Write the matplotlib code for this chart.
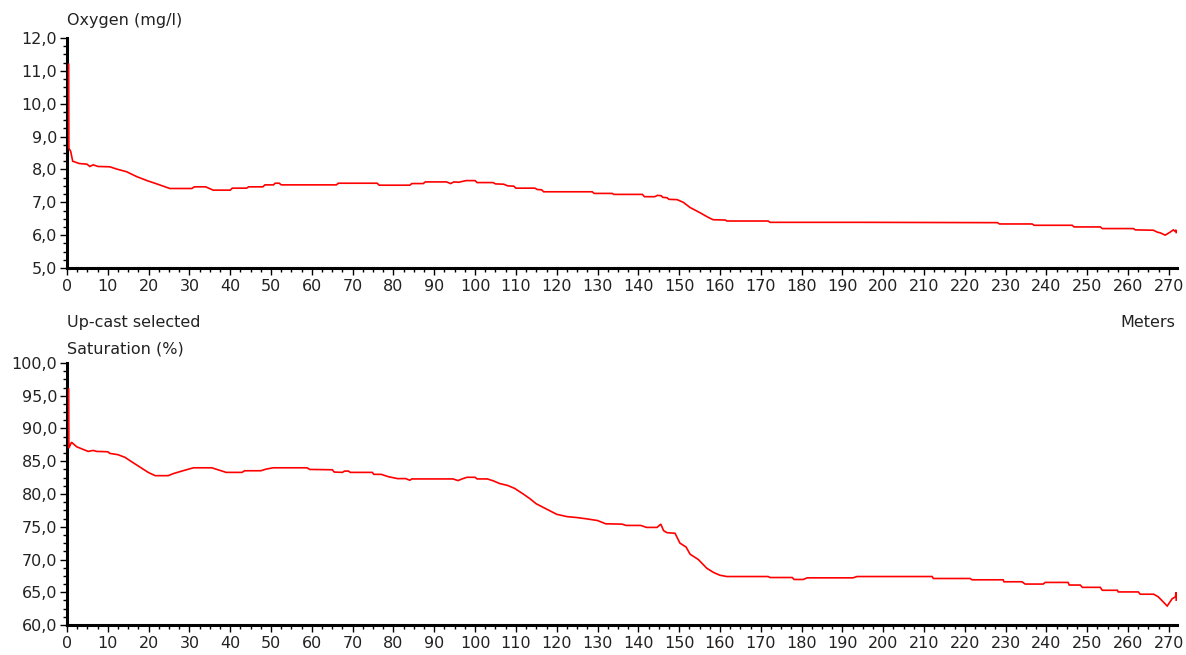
import matplotlib
matplotlib.use("Agg")
import matplotlib.pyplot as plt
from matplotlib.ticker import MultipleLocator, FuncFormatter

# Dissolved oxygen profile (up-cast), depth in meters
depth_oxy = [0.4, 0.45, 0.9, 1.4, 3.0, 4.9, 5.6, 6.4, 7.6, 10.5, 12.2, 14.6, 17.1, 19.6,
             22.0, 25.2, 30.6, 31.2, 34.0, 35.8, 40.0, 40.5, 44.0, 44.5, 48.0, 48.5, 50.6,
             51.0, 52.0, 52.5, 66.0, 66.5, 76.0, 76.5, 84.0, 84.5, 87.3, 87.8, 93.0, 94.0,
             94.8, 96.0, 97.8, 100.0, 100.5, 104.4, 105.0, 107.0, 108.0, 109.5, 110.0,
             114.7, 115.2, 116.3, 116.8, 128.7, 129.2, 133.6, 134.0, 141.0, 141.5, 144.0,
             144.7, 145.6, 146.0, 147.0, 147.5, 149.5, 151.0, 152.7, 155.0, 157.0, 158.3,
             161.3, 161.7, 171.8, 172.3, 194.4, 228.0, 228.5, 236.5, 237.0, 246.3, 246.8,
             253.2, 253.7, 261.3, 261.8, 266.2, 267.2, 267.9, 269.1, 270.3, 271.1, 271.5,
             271.8, 271.8]
oxygen = [11.2, 8.65, 8.55, 8.25, 8.18, 8.16, 8.09, 8.14, 8.09, 8.08, 8.01, 7.93, 7.78, 7.66,
          7.56, 7.42, 7.42, 7.47, 7.47, 7.37, 7.37, 7.43, 7.43, 7.47, 7.47, 7.53, 7.53,
          7.58, 7.58, 7.53, 7.53, 7.58, 7.58, 7.52, 7.52, 7.57, 7.57, 7.62, 7.62, 7.57,
          7.62, 7.61, 7.66, 7.66, 7.60, 7.60, 7.56, 7.55, 7.50, 7.49, 7.43,
          7.43, 7.39, 7.38, 7.32, 7.32, 7.27, 7.27, 7.24, 7.24, 7.17, 7.17,
          7.21, 7.20, 7.15, 7.14, 7.09, 7.08, 7.00, 6.84, 6.69, 6.55, 6.47,
          6.46, 6.43, 6.43, 6.39, 6.39, 6.38, 6.34, 6.34, 6.30, 6.30, 6.25,
          6.25, 6.20, 6.20, 6.16, 6.15, 6.09, 6.07, 6.00, 6.09, 6.16, 6.12,
          6.16, 6.08]

# Oxygen saturation profile (up-cast), depth in meters
depth_sat = [0.4, 0.45, 1.1, 2.4, 3.6, 5.2, 6.4, 7.3, 10.0, 10.5, 12.5, 14.2, 15.9, 17.9,
             19.9, 21.6, 24.8, 26.0, 28.4, 31.0, 35.5, 37.0, 39.0, 42.9, 43.5, 47.5, 48.8,
             50.5, 58.8, 59.5, 65.0, 65.5, 67.5, 68.0, 69.0, 69.4, 74.8, 75.2, 77.0, 78.7,
             81.0, 83.0, 84.0, 84.5, 94.6, 95.8, 96.8, 98.0, 100.0, 100.5, 103.0, 104.5,
             106.0, 108.0, 109.7, 111.8, 113.4, 115.0, 117.5, 120.0, 122.5, 125.0, 127.4,
             130.0, 132.0, 136.0, 137.0, 140.6, 142.0, 144.6, 145.5, 146.2, 147.0, 149.0,
             150.2, 151.7, 152.7, 154.7, 156.8, 158.5, 160.0, 161.7, 171.8, 172.3, 177.7,
             178.2, 180.4, 181.4, 192.6, 193.6, 212.0, 212.3, 221.3, 221.8, 229.4, 229.6,
             234.0, 234.8, 239.2, 239.7, 245.3, 245.6, 248.3, 248.8, 253.2, 253.7, 257.4,
             257.6, 262.5, 263.0, 266.3, 267.4, 268.2, 269.6, 270.8, 271.6, 271.8, 271.8]
saturation = [96.0, 87.0, 87.9, 87.2, 86.9, 86.5, 86.65, 86.5, 86.45, 86.2, 86.0, 85.6, 84.9, 84.1,
              83.3, 82.8, 82.8, 83.1, 83.55, 84.0, 84.0, 83.7, 83.3, 83.3, 83.55, 83.55, 83.8,
              84.0, 84.0, 83.75, 83.7, 83.35, 83.3, 83.5, 83.5, 83.3, 83.3, 83.0, 83.0, 82.65,
              82.35, 82.35, 82.1, 82.3, 82.3, 82.05, 82.3, 82.55, 82.55, 82.3, 82.3, 82.0,
              81.6, 81.3, 80.85, 80.0, 79.3, 78.5, 77.7, 76.9, 76.55, 76.4, 76.2,
              75.95, 75.45, 75.4, 75.2, 75.2, 74.9, 74.9, 75.4, 74.4, 74.1, 74.0,
              72.5, 71.9, 70.8, 70.0, 68.65, 68.0, 67.6, 67.4, 67.4, 67.25, 67.25,
              66.95, 66.95, 67.2, 67.2, 67.4, 67.4, 67.1, 67.1, 66.9, 66.9, 66.6,
              66.6, 66.25, 66.25, 66.5, 66.5, 66.1, 66.1, 65.75, 65.75, 65.3, 65.3,
              65.05, 65.05, 64.7, 64.7, 64.3, 63.8, 62.9, 64.0, 64.3, 65.0, 63.8]

oxy_ticks = [5, 6, 7, 8, 9, 10, 11, 12]
sat_ticks = [60, 65, 70, 75, 80, 85, 90, 95, 100]
depth_ticks = list(range(0, 271, 10))

TEXT = "#222222"
LINE = "#ff0000"
FONT = "DejaVu Sans"
plt.rcParams["font.family"] = FONT

W, H = 1186, 655
fig = plt.figure(figsize=(W / 100, H / 100), dpi=100)
fig.patch.set_facecolor("white")

comma = FuncFormatter(lambda v, p: f"{v:.1f}".replace(".", ","))


def make_axes(top_px, bottom_px):
    ax = fig.add_axes([67 / W, 1 - bottom_px / H, 1110 / W, (bottom_px - top_px) / H])
    for s in ("top", "right"):
        ax.spines[s].set_visible(False)
    for s in ("left", "bottom"):
        ax.spines[s].set_linewidth(2.2)
        ax.spines[s].set_color("black")
    ax.set_xlim(0, 272)
    ax.set_xticks(depth_ticks)
    ax.xaxis.set_minor_locator(MultipleLocator(2.5))
    ax.tick_params(axis="both", which="major", direction="out", length=5, width=1,
                   colors="black", labelcolor=TEXT, labelsize=11.5)
    ax.tick_params(axis="both", which="minor", direction="out", length=3, width=1,
                   colors="black")
    ax.tick_params(axis="x", which="major", pad=3)
    ax.tick_params(axis="y", which="major", pad=2)
    ax.yaxis.set_major_formatter(comma)
    return ax


ax1 = make_axes(38, 268)
ax1.plot(depth_oxy, oxygen, color=LINE, lw=1.2, solid_joinstyle="miter", zorder=3)
ax1.set_ylim(5, 12)
ax1.set_yticks(oxy_ticks)
ax1.yaxis.set_minor_locator(MultipleLocator(0.25))

ax2 = make_axes(363, 625)
ax2.plot(depth_sat, saturation, color=LINE, lw=1.2, solid_joinstyle="miter", zorder=3)
ax2.set_ylim(60, 100)
ax2.set_yticks(sat_ticks)
ax2.yaxis.set_minor_locator(MultipleLocator(1.25))

fs = 11.5
fig.text(67 / W, 1 - 20 / H, "Oxygen (mg/l)", ha="left", va="center", fontsize=fs, color=TEXT)
fig.text(67 / W, 1 - 322 / H, "Up-cast selected", ha="left", va="center", fontsize=fs, color=TEXT)
fig.text(67 / W, 1 - 349 / H, "Saturation (%)", ha="left", va="center", fontsize=fs, color=TEXT)
fig.text(1175 / W, 1 - 322 / H, "Meters", ha="right", va="center", fontsize=fs, color=TEXT)

fig.savefig("out.png", dpi=100, facecolor="white")
